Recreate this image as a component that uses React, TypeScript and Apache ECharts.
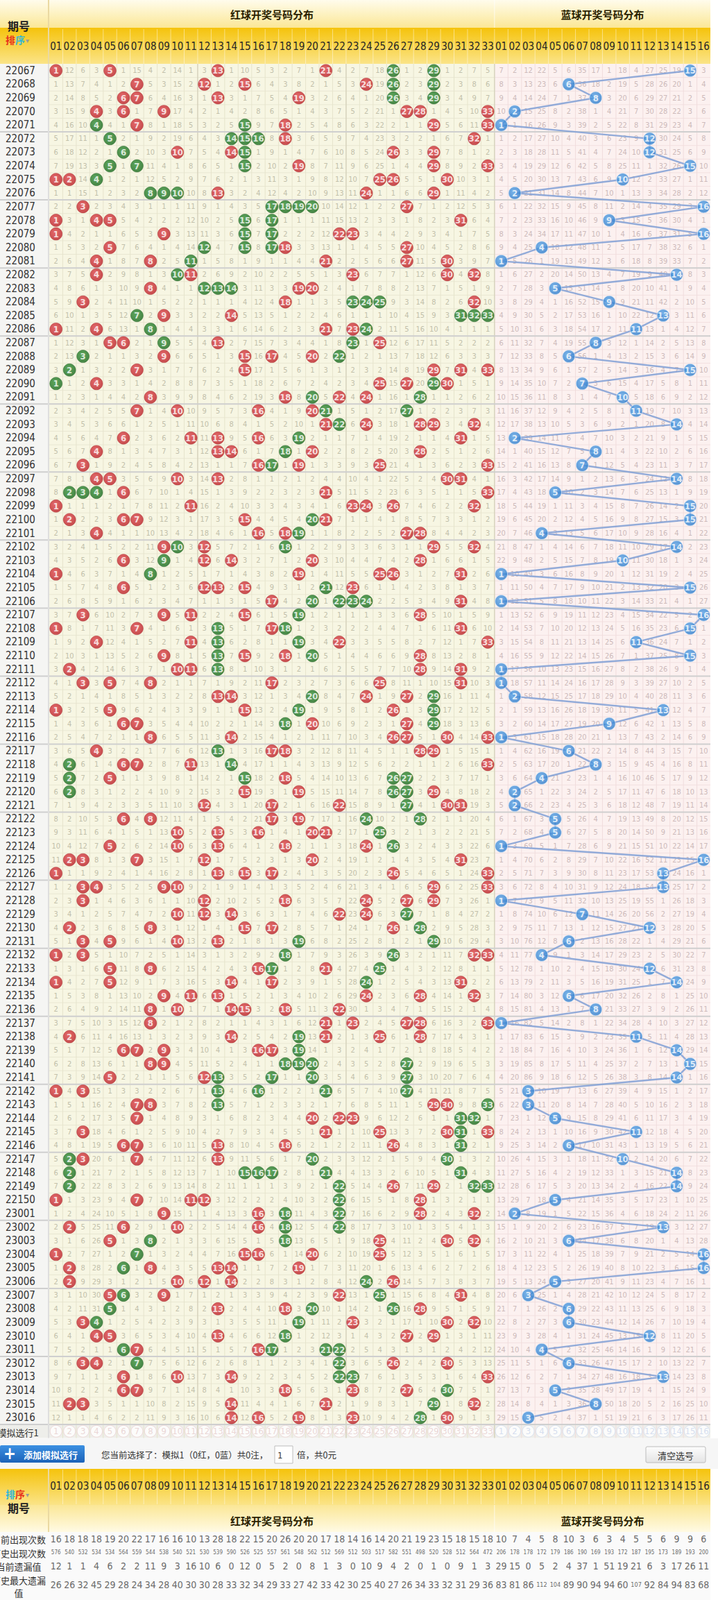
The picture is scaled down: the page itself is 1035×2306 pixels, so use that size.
import React, { useEffect, useRef } from "react";
import * as echarts from "echarts";

// ---------------- data ----------------
const periods = [
  "22067","22068","22069","22070","22071","22072","22073","22074","22075","22076",
  "22077","22078","22079","22080","22081","22082","22083","22084","22085","22086",
  "22087","22088","22089","22090","22091","22092","22093","22094","22095","22096",
  "22097","22098","22099","22100","22101","22102","22103","22104","22105","22106",
  "22107","22108","22109","22110","22111","22112","22113","22114","22115","22116",
  "22117","22118","22119","22120","22121","22122","22123","22124","22125","22126",
  "22127","22128","22129","22130","22131","22132","22133","22134","22135","22136",
  "22137","22138","22139","22140","22141","22142","22143","22144","22145","22146",
  "22147","22148","22149","22150","23001","23002","23003","23004","23005","23006",
  "23007","23008","23009","23010","23011","23012","23013","23014","23015","23016",
];

const redDraws = [
  [1,5,13,21,26,29],[7,12,15,24,26,29],[6,7,13,19,26,29],[4,6,9,27,28,33],[4,7,15,18,29,33],
  [5,14,15,16,18,32],[6,10,14,15,26,29],[5,7,15,19,29,33],[1,2,4,25,26,30],[8,9,10,13,24,29],
  [3,17,18,19,20,27],[1,4,5,15,17,31],[1,9,15,17,22,23],[5,12,15,17,18,27],[4,8,11,21,27,30],
  [4,10,11,23,30,32],[8,12,13,14,19,20],[3,18,23,24,25,32],[7,9,14,31,32,33],[1,4,8,21,23,24],
  [5,6,9,13,23,25],[3,9,15,17,20,22],[2,7,15,29,31,33],[1,4,25,27,29,30],[8,18,20,22,24,28],
  [7,10,16,20,21,27],[21,22,24,28,29,32],[6,11,13,16,19,31],[4,13,14,18,20,28],[3,16,17,19,25,33],
  [4,5,10,13,30,31],[2,3,4,6,21,33],[1,11,23,24,26,32],[2,6,7,15,20,21],[4,16,18,19,27,28],
  [9,10,12,18,29,32],[6,9,12,14,20,28],[1,8,19,25,26,31],[6,12,13,15,21,23],[17,20,22,23,24,31],
  [3,9,11,15,19,28],[1,7,13,17,18,31],[4,11,13,19,22,33],[9,13,15,18,20,28],[2,10,11,13,28,31],
  [3,5,8,17,25,31],[13,14,20,24,27,29],[1,5,15,19,26,29],[6,7,18,20,27,29],[8,14,26,27,30,33],
  [4,13,17,18,28,29],[2,6,7,11,14,33],[2,5,15,18,26,27],[2,15,19,26,27,29],[12,17,22,27,30,31],
  [6,8,17,19,24,28],[10,13,16,20,21,25],[5,10,13,18,24,26],[2,3,7,12,20,31],[1,13,15,17,26,33],
  [3,4,9,10,29,33],[3,12,18,24,27,29],[10,12,14,22,24,27],[2,8,15,17,26,28],[3,5,10,13,19,29],
  [1,3,18,26,32,33],[5,8,16,17,21,25],[1,5,14,17,24,31],[9,11,13,24,28,32],[8,10,14,15,18,22],
  [8,21,23,27,28,33],[2,14,19,21,25,28],[6,7,9,16,17,19],[8,9,18,19,20,27],[5,12,13,17,20,27],
  [1,3,13,16,21,27],[7,8,13,29,30,33],[7,20,22,23,31,32],[3,21,25,30,31,33],[6,7,13,18,26,31],
  [2,3,7,13,20,30],[2,15,16,17,21,31],[2,22,26,29,32,33],[1,7,11,12,22,28],[9,16,18,22,28,32],
  [2,6,10,16,18,22],[5,8,18,25,30,32],[1,7,15,16,20,25],[2,6,8,13,14,19],[2,10,12,14,24,26],
  [5,6,9,22,25,31],[5,13,18,20,26,28],[3,4,19,23,30,32],[4,5,13,18,27,29],[6,7,16,17,21,22],
  [3,4,7,22,26,30],[6,10,14,22,23,33],[6,7,18,23,27,30],[2,3,14,21,29,32],[14,16,19,23,28,30],
];

// red numbers drawn in green in the reference
const greenMarks = [
  [26,29],[26,29],[26,29],[],[4,15],[5,14,15,16],[6,15],[5,7,15],[4],[8,9,10],
  [17,18,19,20],[15,17],[15,17],[12,15,17],[11],[10],[12,13,14],[23,24,25],[7,31,32,33],[8,24],
  [9,23],[3,22],[2],[1,29],[20,28],[21,27],[22],[19],[18],[17],
  [],[2,3,4],[],[20],[19],[10,18],[9],[8],[21],[20,22,23,24],
  [19],[13,18],[13,19],[13,20],[13],[],[20,29],[19,29],[18,29],[],
  [13],[2,14],[2,15,26,27],[2,26,27],[27],[24,28],[25],[26],[],[],
  [],[],[27],[28],[19,29],[18,26],[17,25],[24],[],[],
  [],[19],[19],[18,19,20,27],[13,17,20,27],[13,16,21,27],[13,33],[31,32],[31],[31],
  [2,20,30],[2,15,16,17,21,31],[2,22,32,33],[22],[18,22],[18,22],[8,18],[7],[6],[24],
  [6,25],[5,20,26],[4,19],[18],[6,17,21,22],[7,22],[22,23],[30],[29],[28],
];

const blueDraws = [
  15,6,8,2,1,12,12,15,10,2, 16,9,16,4,1,14,5,9,13,11,
  8,6,15,7,10,11,14,2,8,7, 14,5,15,15,4,14,10,1,15,1,
  16,15,11,15,1,1,2,13,9,1, 6,8,4,2,2,5,5,1,16,13,
  13,1,7,12,6,4,12,14,6,8, 1,11,14,15,14,3,3,5,11,6,
  10,14,14,5,2,13,6,16,16,5, 3,6,6,12,4,6,13,5,8,3,
];

// omission values printed in the first row (22067); 0 = drawn in that row
const redFirstRowOmission = [0,12,6,3,0,1,15,4,2,14,1,3,0,1,10,5,3,2,7,1,0,4,2,7,18,0,1,2,0,1,2,7,5];
const blueFirstRowOmission = [7,2,12,22,5,6,35,17,1,18,4,27,25,19,0,3];

const redColumnLabels = ["01","02","03","04","05","06","07","08","09","10","11","12","13","14","15","16","17","18","19","20","21","22","23","24","25","26","27","28","29","30","31","32","33"];
const blueColumnLabels = ["01","02","03","04","05","06","07","08","09","10","11","12","13","14","15","16"];

const statLabels = ["当前出现次数", "历史出现次数", "当前遗漏值", "历史最大遗漏"];
const curCountRed = [16,18,18,18,19,20,22,17,16,16,10,13,28,18,22,15,20,26,20,20,17,18,14,16,14,20,21,19,23,15,18,15,18];
const curCountBlue = [10,7,4,5,8,10,3,6,3,4,5,5,6,9,9,6];
const histCountRed = [576,540,532,534,534,564,559,544,538,540,521,530,539,590,526,525,557,561,548,562,512,569,512,503,517,582,551,498,520,528,512,564,472];
const histCountBlue = [206,178,178,172,179,186,190,169,193,172,187,195,173,189,193,200];
const curOmitRed = [12,1,1,4,6,2,2,11,9,3,16,10,6,0,12,0,5,2,0,8,1,3,0,10,9,4,2,0,1,0,9,1,3];
const curOmitBlue = [29,15,0,5,2,4,37,1,51,19,21,6,3,17,26,11];
const maxOmitRed = [26,26,32,45,29,28,24,34,28,40,30,30,28,33,32,34,29,33,27,42,33,42,30,25,40,27,26,34,33,32,31,29,36];
const maxOmitBlue = [83,81,86,112,104,89,90,94,94,60,107,92,84,94,83,68];

// ---------------- layout / style ----------------
const NARROW = '"Liberation Sans Narrow","DejaVu Sans Condensed","Roboto Condensed","Liberation Sans",sans-serif';
const CJK = '"Noto Sans CJK SC","Noto Sans",sans-serif';
const GL = 71;
const CW = 19.45;
const GW = CW * 49;
const TOP = 92;
const RH = 19.61;
const FOOT_TOP = 2208;
const FOOT_H = 98;
const statRowPos = [0.5, 1.5, 2.5, 3.88];

const lg = (a: string, b: string) => ({
  type: "linear", x: 0, y: 0, x2: 0, y2: 1,
  colorStops: [{ offset: 0, color: a }, { offset: 1, color: b }],
});
const rg = (a: string, b: string) => ({
  type: "radial", x: 0.42, y: 0.38, r: 0.7,
  colorStops: [{ offset: 0, color: a }, { offset: 1, color: b }],
});

function T(x: number, y: number, text: string, o: any = {}) {
  return {
    type: "text", x, y, z: 10, silent: true,
    style: {
      text, fill: o.fill || "#333", fontSize: o.size || 13, fontFamily: o.family || CJK,
      fontWeight: o.weight || "normal", align: o.align || "left", textAlign: o.align || "left",
      verticalAlign: "middle", textVerticalAlign: "middle",
    },
  };
}
function R(x: number, y: number, w: number, h: number, fill: any, o: any = {}) {
  return {
    type: "rect", z: o.z ?? -20, silent: true,
    shape: { x, y, width: w, height: h, r: o.r || 0 },
    style: { fill, stroke: o.stroke || null, lineWidth: o.lw || 0 },
  };
}
function L(x1: number, y1: number, x2: number, y2: number, stroke: string, lw = 1, z = -15) {
  return { type: "line", z, silent: true, shape: { x1, y1, x2, y2 }, style: { stroke, lineWidth: lw } };
}

function buildOption() {
  const cats = [...redColumnLabels.map((s) => "r" + s), ...blueColumnLabels.map((s) => "b" + s)];
  const rowCats = [...periods, "sim"];
  const NR = periods.length;

  const redBalls: any[] = [];
  const greenBalls: any[] = [];
  const blueBalls: any[] = [];
  const omission: any[] = [];
  const ro = redFirstRowOmission.slice();
  const bo = blueFirstRowOmission.slice();
  for (let r = 0; r < NR; r++) {
    const reds = redDraws[r];
    for (let n = 1; n <= 33; n++) {
      const hit = reds.indexOf(n) >= 0;
      if (r > 0) ro[n - 1] = hit ? 0 : ro[n - 1] + 1;
      if (hit) {
        if (greenMarks[r].indexOf(n) >= 0) greenBalls.push([n - 1, r, n]);
        else redBalls.push([n - 1, r, n]);
      } else omission.push([n - 1, r, ro[n - 1]]);
    }
    for (let n = 1; n <= 16; n++) {
      const hit = blueDraws[r] === n;
      if (r > 0) bo[n - 1] = hit ? 0 : bo[n - 1] + 1;
      if (hit) blueBalls.push([33 + n - 1, r, n]);
      else omission.push([33 + n - 1, r, bo[n - 1]]);
    }
  }
  const blueSegs: any[] = [];
  for (let r = 0; r < NR - 1; r++) blueSegs.push([33 + blueDraws[r] - 1, r, 33 + blueDraws[r + 1] - 1, r + 1]);

  const simRed: any[] = redColumnLabels.map((s, i) => [i, NR, Number(s)]);
  const simBlue: any[] = blueColumnLabels.map((s, i) => [33 + i, NR, Number(s)]);

  const statRows = [
    [curCountRed, curCountBlue], [histCountRed, histCountBlue],
    [curOmitRed, curOmitBlue], [maxOmitRed, maxOmitBlue],
  ];
  const statData: any[] = [];
  statRows.forEach((pair, k) => {
    pair[0].forEach((v, i) => statData.push([i, statRowPos[k], v, k]));
    pair[1].forEach((v, i) => statData.push([33 + i, statRowPos[k], v, k]));
  });

  const ballLabel = {
    show: true, position: "inside", color: "#fff", fontSize: 13, fontWeight: "bold",
    fontFamily: NARROW, formatter: (p: any) => String(p.value[2]),
  };

  const redX = GL + (33 * CW) / 2;
  const blueX = GL + 33 * CW + (16 * CW) / 2;
  const xRB = GL + 33 * CW;
  const xEnd = GL + GW;

  const elements: any[] = [
    // top header
    R(0, 0, xEnd, 40, lg("#fffcec", "#fbe796")),
    R(0, 40, xEnd, 52, lg("#f5c30c", "#fbe488")),
    L(70, 0, 70, 92, "#ead9a2", 2),
    L(xRB, 0, xRB, 40, "rgba(255,255,255,0.7)", 1),
    T(redX, 20, "红球开奖号码分布", { size: 15, weight: "bold", align: "center", fill: "#2a2200" }),
    T(blueX, 20, "蓝球开奖号码分布", { size: 15, weight: "bold", align: "center", fill: "#2a2200" }),
    T(27, 37, "期号", { size: 16, weight: "bold", align: "center", fill: "#222" }),
    T(8, 57, "排", { size: 14, weight: "bold", fill: "#e8331c" }),
    T(22, 57, "序", { size: 14, weight: "bold", fill: "#33b7d6" }),
    T(37, 57, "▾", { size: 10, fill: "#9a9a9a" }),
    // simulation row label
    T(26, 2064, "模拟选行1", { size: 13, align: "center", fill: "#333" }),
    // button row
    R(0, 2073, 1035, 44, "#f6f6f6"),
    R(0, 2083, 122, 25, lg("#3c90e2", "#1b62b8"), { r: 2, z: -10 }),
    T(14, 2095, "+", { size: 24, weight: "bold", align: "center", fill: "#fff", family: NARROW }),
    T(34, 2096, "添加模拟选行", { size: 13, weight: "bold", fill: "#fff" }),
    T(146, 2096, "您当前选择了：模拟1（0红，0蓝）共0注，", { size: 12.5, fill: "#333" }),
    R(396, 2084, 26, 25, "#ffffff", { stroke: "#bdbdbd", lw: 1, z: -10 }),
    T(400, 2097, "1", { size: 13, fill: "#333", family: NARROW }),
    T(428, 2096, "倍，共0元", { size: 12.5, fill: "#333" }),
    R(931, 2085, 86, 23, lg("#fdfdfd", "#e4e4e4"), { stroke: "#bcbcbc", lw: 1, r: 2, z: -10 }),
    T(974, 2097, "清空选号", { size: 13, align: "center", fill: "#333" }),
    // footer header
    R(0, 2117, xEnd, 52, lg("#f5c30c", "#fbe488")),
    R(0, 2169, xEnd, 40, lg("#fbe796", "#fffbe6")),
    L(70, 2117, 70, 2208, "#ead9a2", 2),
    L(xRB, 2169, xRB, 2208, "rgba(255,255,255,0.7)", 1),
    T(8, 2153, "排", { size: 14, weight: "bold", fill: "#33b7d6" }),
    T(22, 2153, "序", { size: 14, weight: "bold", fill: "#e8331c" }),
    T(37, 2153, "▾", { size: 10, fill: "#9a9a9a" }),
    T(27, 2173, "期号", { size: 16, weight: "bold", align: "center", fill: "#222" }),
    T(redX, 2191, "红球开奖号码分布", { size: 15, weight: "bold", align: "center", fill: "#2a2200" }),
    T(blueX, 2191, "蓝球开奖号码分布", { size: 15, weight: "bold", align: "center", fill: "#2a2200" }),
    // footer stats
    R(0, FOOT_TOP, xEnd, FOOT_H, "#fafafa"),
    T(27, 2218, statLabels[0], { size: 13, align: "center", fill: "#333" }),
    T(27, 2238, statLabels[1], { size: 13, align: "center", fill: "#333" }),
    T(27, 2257, statLabels[2], { size: 13, align: "center", fill: "#333" }),
    T(27, 2277, statLabels[3], { size: 13, align: "center", fill: "#333" }),
    T(27, 2295, "值", { size: 13, align: "center", fill: "#333" }),
  ];

  const axisNumLabel = {
    show: true, interval: 0, verticalAlign: "middle", fontSize: 15, color: "#262626",
    fontFamily: NARROW, formatter: (v: string) => v.slice(1),
  };

  return {
    animation: false,
    backgroundColor: "#ffffff",
    graphic: { elements },
    grid: [
      { left: GL, top: TOP, width: GW, height: RH * 101, containLabel: false, outerBoundsMode: "none" },
      { left: GL, top: FOOT_TOP, width: GW, height: FOOT_H, containLabel: false, outerBoundsMode: "none" },
    ],
    xAxis: [
      {
        gridIndex: 0, type: "category", data: cats, position: "top",
        axisLine: { show: false }, axisTick: { show: false }, splitLine: { show: false },
        axisLabel: { ...axisNumLabel, margin: 25 },
      },
      {
        gridIndex: 1, type: "category", data: cats, position: "top",
        axisLine: { show: false }, axisTick: { show: false }, splitLine: { show: false },
        axisLabel: { ...axisNumLabel, margin: 66 },
      },
    ],
    yAxis: [
      {
        gridIndex: 0, type: "category", data: rowCats, inverse: true,
        axisLine: { show: false }, axisTick: { show: false }, splitLine: { show: false },
        axisLabel: {
          show: true, interval: 0, align: "left", margin: GL - 8, fontSize: 15, color: "#333",
          fontFamily: NARROW, formatter: (v: string) => (v === "sim" ? "" : v),
        },
      },
      { gridIndex: 1, type: "value", min: 0, max: 5, inverse: true, show: false },
    ],
    series: [
      {
        type: "custom", name: "cells", xAxisIndex: 0, yAxisIndex: 0, z: -5, silent: true,
        data: [[0, 0]], encode: { x: 0, y: 1 },
        renderItem: (params: any, api: any) => {
          const a = api.coord([0, 0]);
          const b = api.coord([1, 1]);
          const cw = b[0] - a[0];
          const rh = b[1] - a[1];
          const x0 = a[0] - cw / 2;
          const y0 = a[1] - rh / 2;
          const xR = x0 + 33 * cw;
          const xE = x0 + 49 * cw;
          const yD = y0 + NR * rh;
          const yS = yD + rh;
          const ch: any[] = [];
          ch.push({ type: "rect", shape: { x: 0, y: y0, width: x0, height: yD - y0 }, style: { fill: "#f5f5f3" } });
          ch.push({ type: "rect", shape: { x: x0, y: y0, width: xR - x0, height: yD - y0 }, style: { fill: "#f7f6e3" } });
          ch.push({ type: "rect", shape: { x: xR, y: y0, width: xE - xR, height: yD - y0 }, style: { fill: "#fcf1f0" } });
          ch.push({ type: "rect", shape: { x: 0, y: yD, width: xE, height: rh }, style: { fill: "#eeeeea" } });
          for (let j = 1; j < NR; j++) {
            const y = y0 + j * rh;
            ch.push({ type: "line", shape: { x1: x0, y1: y, x2: xR, y2: y }, style: { stroke: "#e9e7d2", lineWidth: 1 } });
            ch.push({ type: "line", shape: { x1: xR, y1: y, x2: xE, y2: y }, style: { stroke: "#f2e0e0", lineWidth: 1 } });
          }
          for (let i = 1; i < 49; i++) {
            const x = x0 + i * cw;
            const strong = i === 11 || i === 22 || i === 33;
            ch.push({
              type: "line", shape: { x1: x, y1: y0, x2: x, y2: yS },
              style: { stroke: strong ? "#d6d3bc" : i < 33 ? "#e6e4cc" : "#f0dcdc", lineWidth: strong ? 1.5 : 1 },
            });
            ch.push({
              type: "line", shape: { x1: x, y1: TOP - 50, x2: x, y2: TOP },
              style: { stroke: "rgba(255,255,255,0.45)", lineWidth: 1 },
            });
          }
          for (let j = 5; j <= NR; j += 5) {
            const y = y0 + j * rh;
            ch.push({ type: "line", shape: { x1: 0, y1: y, x2: xE, y2: y }, style: { stroke: "#cfcfcf", lineWidth: 2 } });
          }
          ch.push({ type: "line", shape: { x1: 70, y1: y0, x2: 70, y2: yS }, style: { stroke: "#dedede", lineWidth: 2 } });
          return { type: "group", children: ch };
        },
      },
      {
        type: "custom", name: "omission", xAxisIndex: 0, yAxisIndex: 0, z: 1, silent: true,
        data: omission, encode: { x: 0, y: 1 },
        renderItem: (params: any, api: any) => {
          const c = api.value(0);
          const p = api.coord([c, api.value(1)]);
          return {
            type: "text", x: p[0], y: p[1],
            style: {
              text: String(api.value(2)), fill: c < 33 ? "#c2c0aa" : "#cdbaba", fontSize: 11,
              fontFamily: NARROW, align: "center", textAlign: "center",
              verticalAlign: "middle", textVerticalAlign: "middle",
            },
          };
        },
      },
      {
        type: "custom", name: "blueLine", xAxisIndex: 0, yAxisIndex: 0, z: 2, silent: true,
        data: blueSegs, encode: { x: [0, 2], y: [1, 3] },
        renderItem: (params: any, api: any) => {
          const p1 = api.coord([api.value(0), api.value(1)]);
          const p2 = api.coord([api.value(2), api.value(3)]);
          return {
            type: "line", shape: { x1: p1[0], y1: p1[1], x2: p2[0], y2: p2[1] },
            style: { stroke: "#86a3d6", lineWidth: 2.4, opacity: 0.9 },
          };
        },
      },
      {
        type: "scatter", name: "red", xAxisIndex: 0, yAxisIndex: 0, z: 3, silent: true,
        data: redBalls, symbol: "circle", symbolSize: 18, encode: { x: 0, y: 1 },
        itemStyle: { color: rg("#e0464c", "#b51d24"), borderColor: "#a8161d", borderWidth: 0.5 },
        label: ballLabel,
      },
      {
        type: "scatter", name: "green", xAxisIndex: 0, yAxisIndex: 0, z: 3, silent: true,
        data: greenBalls, symbol: "circle", symbolSize: 18, encode: { x: 0, y: 1 },
        itemStyle: { color: rg("#36923a", "#17651b"), borderColor: "#125a16", borderWidth: 0.5 },
        label: ballLabel,
      },
      {
        type: "scatter", name: "blue", xAxisIndex: 0, yAxisIndex: 0, z: 4, silent: true,
        data: blueBalls, symbol: "circle", symbolSize: 18, encode: { x: 0, y: 1 },
        itemStyle: { color: rg("#5aa5e8", "#2877c8"), borderColor: "#d9e9f8", borderWidth: 1 },
        label: ballLabel,
      },
      {
        type: "scatter", name: "simRed", xAxisIndex: 0, yAxisIndex: 0, z: 3, silent: true,
        data: simRed, symbol: "circle", symbolSize: 17, encode: { x: 0, y: 1 },
        itemStyle: { color: "#ffffff", borderColor: "#ecd2d2", borderWidth: 1 },
        label: { ...ballLabel, color: "#e6cccc", fontWeight: "normal" },
      },
      {
        type: "scatter", name: "simBlue", xAxisIndex: 0, yAxisIndex: 0, z: 3, silent: true,
        data: simBlue, symbol: "circle", symbolSize: 17, encode: { x: 0, y: 1 },
        itemStyle: { color: "#ffffff", borderColor: "#d2dcef", borderWidth: 1 },
        label: { ...ballLabel, color: "#cbd6ec", fontWeight: "normal" },
      },
      {
        type: "custom", name: "footLines", xAxisIndex: 1, yAxisIndex: 1, z: -5, silent: true,
        data: [[0, 0]], encode: { x: 0, y: 1 },
        renderItem: (params: any, api: any) => {
          const a = api.coord([0, 0]);
          const b = api.coord([1, 0]);
          const cw = b[0] - a[0];
          const x0 = a[0] - cw / 2;
          const ch: any[] = [];
          for (let i = 1; i < 49; i++) {
            const x = x0 + i * cw;
            ch.push({
              type: "line", shape: { x1: x, y1: FOOT_TOP - 90, x2: x, y2: FOOT_TOP - 40 },
              style: { stroke: "rgba(255,255,255,0.45)", lineWidth: 1 },
            });
          }
          return { type: "group", children: ch };
        },
      },
      {
        type: "custom", name: "stats", xAxisIndex: 1, yAxisIndex: 1, z: 2, silent: true,
        data: statData, encode: { x: 0, y: 1 },
        renderItem: (params: any, api: any) => {
          const p = api.coord([api.value(0), api.value(1)]);
          const v = api.value(2);
          const k = api.value(3);
          const size = k === 1 ? 8 : v >= 100 ? 9 : 14;
          return {
            type: "text", x: p[0], y: p[1],
            style: {
              text: String(v), fill: "#6b6b6b", fontSize: size, fontFamily: NARROW,
              align: "center", textAlign: "center", verticalAlign: "middle", textVerticalAlign: "middle",
            },
          };
        },
      },
    ],
  };
}

export default function App() {
  const ref = useRef<HTMLDivElement>(null);
  useEffect(() => {
    document.body.style.margin = "0";
    const chart = echarts.init(ref.current as HTMLDivElement, null, { renderer: "svg" });
    chart.setOption(buildOption() as any);
    return () => chart.dispose();
  }, []);
  return (
    <div
      ref={ref}
      style={{ position: "absolute", left: 0, top: 0, width: 1035, height: 2306, background: "#fff" }}
    />
  );
}
